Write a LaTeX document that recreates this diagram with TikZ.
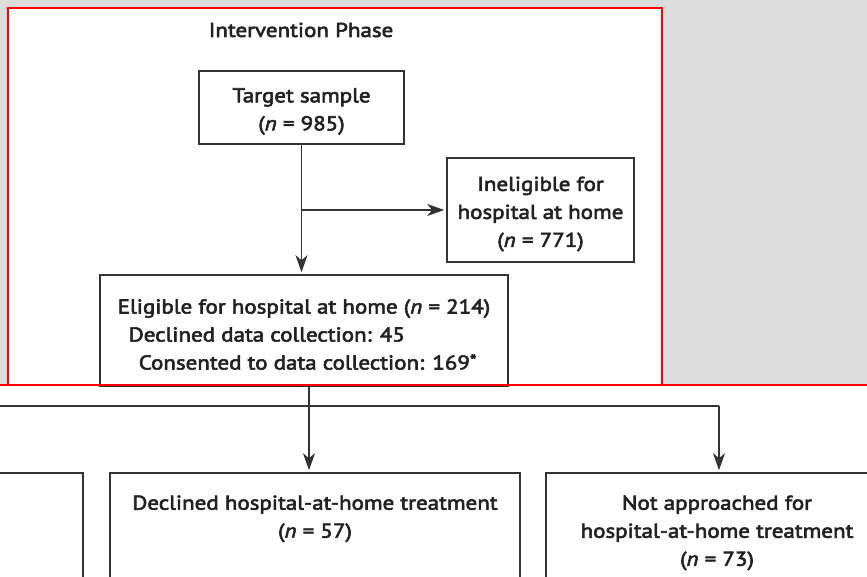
\documentclass[tikz,border=0pt]{standalone}
\usepackage{fontspec}
\setmainfont{PT Sans}[FakeStretch=1.15, UprightFeatures={FakeBold=3}, ItalicFeatures={FakeBold=3}]
\usetikzlibrary{arrows.meta}
\definecolor{bggray}{HTML}{DCDCDC}
\definecolor{linec}{HTML}{333333}
\definecolor{txtc}{HTML}{222222}
\definecolor{redc}{HTML}{FF0000}
\tikzset{
  x=1pt, y=-1pt,
  every node/.style={text=txtc, font=\fontsize{20}{28}\selectfont},
  box/.style={draw=linec, line width=1.6pt, fill=white, inner sep=0pt},
  conn/.style={draw=linec, line width=1.5pt},
  arr/.style={conn, shorten >=2pt, -{Stealth[length=17pt,width=12pt,inset=5pt]}},
  redline/.style={draw=redc, line width=2pt},
}
\begin{document}
\begin{tikzpicture}
\useasboundingbox (0,0) rectangle (867,577);
\clip (0,0) rectangle (867,577);
% backgrounds
\fill[white] (0,0) rectangle (867,577);
\fill[bggray] (0,0) rectangle (867,385);
\fill[white] (8,8) rectangle (662,385);
% title
\node (title) at (301,30) {Intervention Phase};
% boxes
\node[box, minimum width=205pt, minimum height=73pt] (target) at (301.5,107.5) {};
\node[box, minimum width=187pt, minimum height=104pt] (inel) at (540.5,210) {};
\node[box, minimum width=408pt, minimum height=111pt] (elig) at (304,330.5) {};
\node[box, minimum width=300pt, minimum height=200pt] (leftbox) at (-67,573) {};
\node[box, minimum width=410pt, minimum height=200pt] (decl) at (315,573) {};
\node[box, minimum width=346pt, minimum height=200pt] (notapp) at (719,573) {};
% texts
\node[align=center] (targettxt) at ([yshift=-4pt]target.center) {Target sample\\(\textit{n} = 985)};
\node[align=center] (ineltxt) at ([yshift=-4pt]inel.center) {Ineligible for\\hospital at home\\(\textit{n} = 771)};
\node[align=left, anchor=west] (eligtxt) at ([xshift=15pt,yshift=-4pt]elig.west)
  {Eligible for hospital at home (\textit{n} = 214)\\
   \hspace*{11pt}Declined data collection: 45\\
   \hspace*{21pt}Consented to data collection: 169\raisebox{3pt}{\fontsize{17}{17}\selectfont *}};
\node[align=center, anchor=north] (decltxt) at (315,492) {Declined hospital-at-home treatment\\(\textit{n} = 57)};
\node[align=center, anchor=north] (notapptxt) at (717,492) {Not approached for\\hospital-at-home treatment\\(\textit{n} = 73)};
% connectors
\coordinate (branch) at (target.south |- inel.west);
\draw[conn] (target.south) -- (branch);
\draw[arr] (branch) -- (target.south |- elig.north);
\draw[arr] (branch) -- (inel.west);
\coordinate (stemtop) at (309,385);
\coordinate (split) at (309,406);
\coordinate (leftend) at (-5,406);
\coordinate (rightcorner) at (719,406);
\draw[conn] (stemtop) -- (split);
\draw[conn] (leftend) -- (rightcorner);
\draw[arr] (split) -- (split |- decl.north);
\draw[arr] (rightcorner) -- (notapp.north);
% red frame
\draw[redline] (8,385) -- (8,8) -- (662,8) -- (662,385);
\draw[redline] (0,385) -- (867,385);
\end{tikzpicture}
\end{document}
